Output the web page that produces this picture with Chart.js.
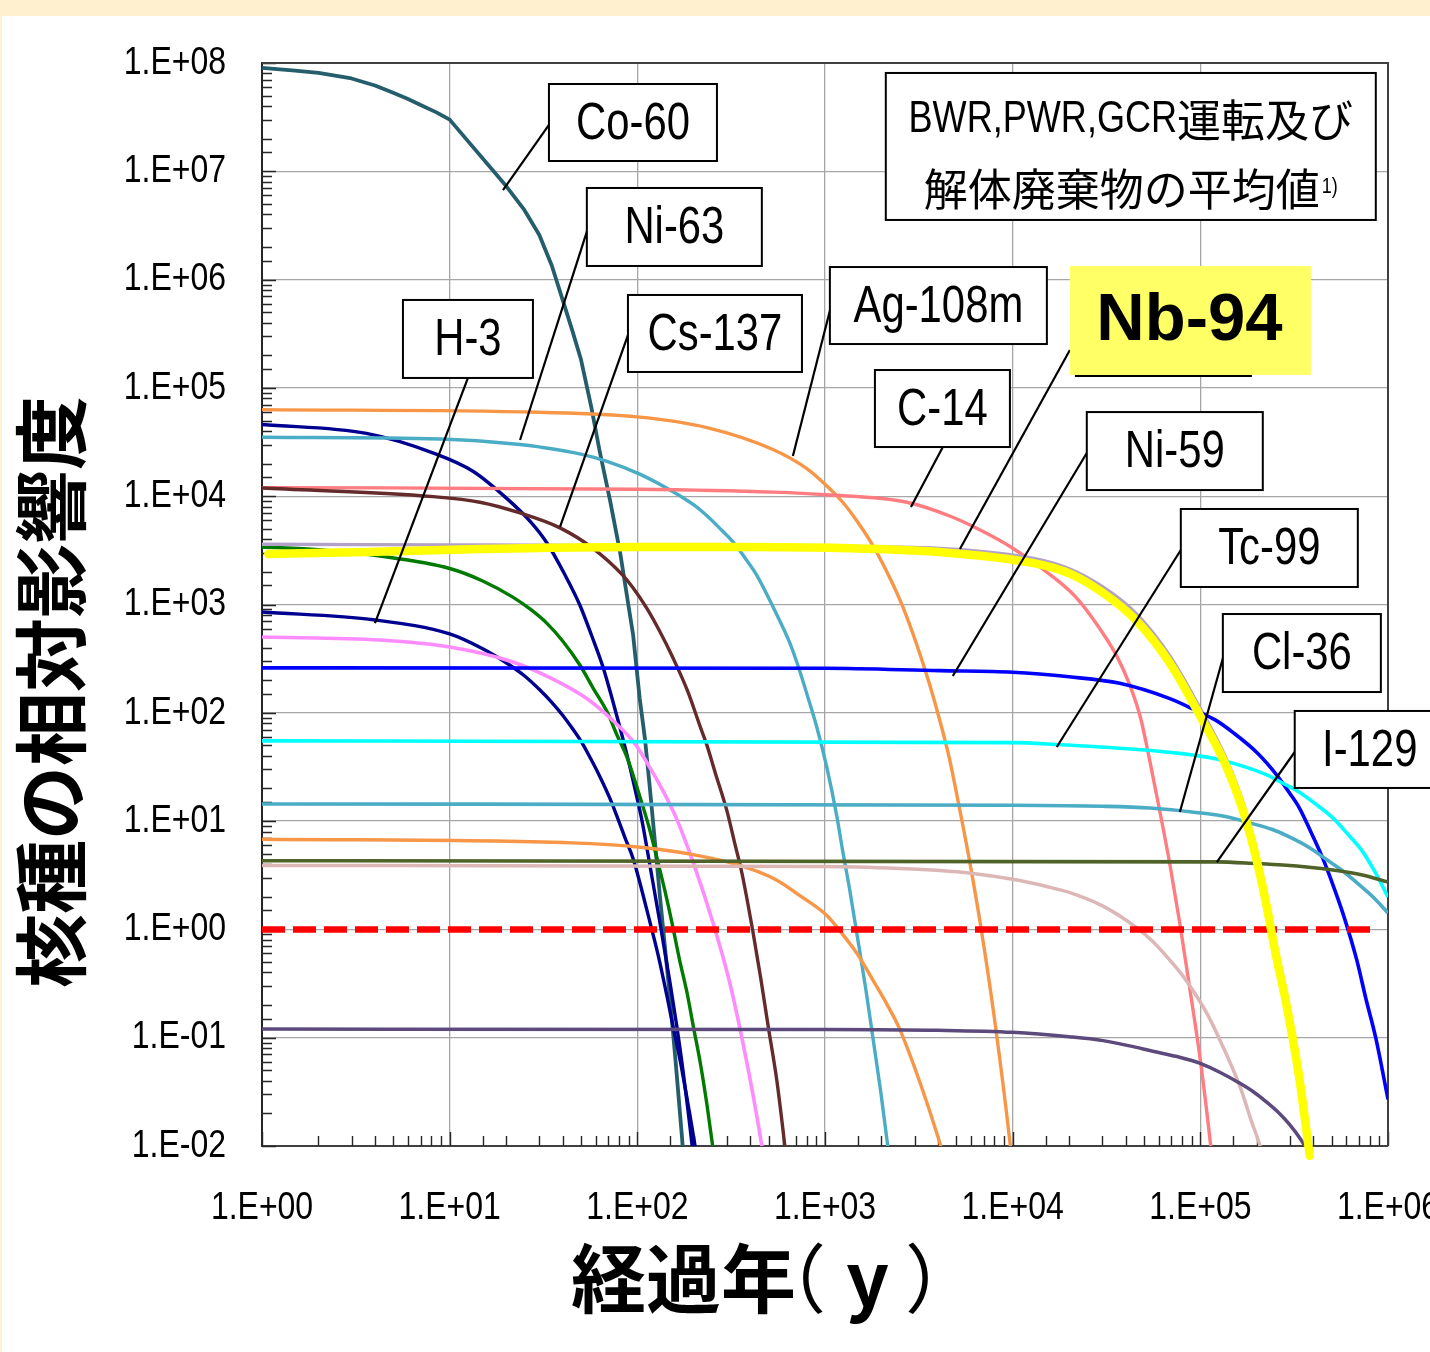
<!DOCTYPE html>
<html lang="ja">
<head>
<meta charset="utf-8">
<title>核種の相対影響度</title>
<script src="https://cdn.jsdelivr.net/npm/chart.js@4.4.1/dist/chart.umd.min.js"></script>
<style>
  html, body { margin: 0; padding: 0; background: #fff1cf; overflow: hidden; }
  #sheet { position: absolute; left: 2px; top: 16px; width: 1428px; height: 1336px; background: #ffffff; }
  #chart { position: absolute; left: 0; top: 0; }
</style>
</head>
<body>
<div id="sheet"></div>
<canvas id="chart" width="1430" height="1352"></canvas>
<script>
// Relative impact of each nuclide versus elapsed years: [years, relative impact]
const co60 = [[1, 9.0e7], [1.5, 8.5e7], [2, 8.1e7], [3, 7.2e7], [4, 6.2e7], [5, 5.3e7], [6, 4.65e7], [7, 4.1e7], [8.5, 3.5e7], [10, 3.0e7], [20, 7.3e6], [25, 4.4e6], [30, 2.6e6], [35, 1.35e6], [40, 6.5e5], [45, 3.4e5], [50, 1.85e5], [57, 6.5e4], [63, 2.6e4], [71.5, 9.2e3], [81, 3.0e3], [95, 520], [103, 135], [110, 56], [117, 19], [124, 6.5], [132, 2.0], [149, 0.24], [160, 0.06], [173, 0.012], [190, 0.0012]];
const ag108m = [[1, 6.3e4], [30, 5.95e4], [100, 5.4e4], [235, 4.3e4], [528, 2.7e4], [800, 1.8e4], [1020, 1.25e4], [1250, 8.7e3], [1480, 5.9e3], [1800, 3.5e3], [2220, 1.75e3], [2600, 950], [3090, 420], [3600, 185], [4090, 85], [4600, 38], [5170, 14], [5850, 4.6], [6770, 1.05], [8040, 0.14], [9660, 0.011], [11000, 0.0012]];
const navySeries = [[1, 4.6e4], [3.6, 3.8e4], [8.2, 2.5e4], [13.3, 1.7e4], [20.2, 9.5e3], [27, 5.8e3], [33, 3.7e3], [41, 1.9e3], [49.5, 980], [57, 520], [65.6, 265], [73, 140], [81, 72], [90, 35], [99.5, 16.5], [106, 10], [117, 3.8], [132, 1.15], [149, 0.33], [162, 0.13], [175, 0.05], [198, 0.0085], [215, 0.002]];
const ni63 = [[1, 3.5e4], [8.9, 3.37e4], [23.7, 3.0e4], [30, 2.85e4], [50, 2.45e4], [69, 2.1e4], [103, 1.6e4], [155, 1.1e4], [200, 8.3e3], [235, 6.6e3], [280, 4.9e3], [323, 3.8e3], [380, 2.6e3], [434, 1.85e3], [540, 880], [650, 440], [730, 250], [800, 150], [900, 76], [1020, 32], [1157, 11], [1245, 5.2], [1350, 2.4], [1480, 0.9], [1640, 0.3], [1800, 0.1], [1980, 0.032], [2160, 0.01], [2400, 0.002]];
const cs137 = [[1, 1.19e4], [8.2, 9.9e3], [14.5, 8.8e3], [23.7, 7.0e3], [38.7, 5.1e3], [58, 3.3e3], [84, 1.85e3], [95, 1.42e3], [112, 930], [132, 560], [155, 320], [185, 160], [216, 75], [235, 50], [260, 28], [300, 12.5], [330, 6.3], [361, 3.3], [413, 0.95], [455, 0.35], [497, 0.13], [554, 0.04], [611, 0.01], [660, 0.003]];
const c14 = [[1, 1.2e4], [100, 1.16e4], [530, 1.09e4], [1020, 1.03e4], [2730, 8.8e3], [4690, 6.5e3], [7000, 4.7e3], [9780, 3.4e3], [1.43e4, 2.15e3], [2.17e4, 1.17e3], [3.03e4, 540], [3.6e4, 330], [4.21e4, 180], [4.8e4, 90], [5.38e4, 36], [6.1e4, 12], [6.88e4, 4.0], [7.8e4, 1.1], [8.8e4, 0.28], [1.0e5, 0.062], [1.14e5, 0.0095], [1.25e5, 0.002]];
const nb94 = [[1, 3.6e3], [10, 3.55e3], [100, 3.5e3], [1000, 3.45e3], [4090, 3.3e3], [1.31e4, 2.65e3], [1.99e4, 2.15e3], [3.03e4, 1.45e3], [4.53e4, 830], [6.88e4, 335], [9.58e4, 125], [1.38e5, 37], [1.77e5, 11.5], [2.15e5, 3.0], [2.56e5, 0.65], [2.82e5, 0.3], [3.35e5, 0.056], [3.7e5, 0.012], [3.9e5, 0.006]];
const nb94Highlight = [[1.08, 2.93e3], [3.6, 3.05e3], [14.5, 3.25e3], [30, 3.33e3], [100, 3.4e3], [350, 3.4e3], [1200, 3.33e3], [4090, 3.05e3], [1.31e4, 2.4e3], [1.99e4, 1.95e3], [3.03e4, 1.28e3], [4.53e4, 719], [6.88e4, 288], [9.58e4, 106], [1.38e5, 31.6], [1.77e5, 9.6], [2.15e5, 2.47], [2.56e5, 0.52], [2.82e5, 0.24], [3.35e5, 0.045], [3.83e5, 0.0081]];
const greenSeries = [[1, 3.4e3], [2, 3.2e3], [4.25, 2.8e3], [10, 2.15e3], [15, 1.65e3], [21.7, 1.17e3], [27, 900], [33, 670], [40, 460], [49.5, 275], [58, 170], [69, 102], [78, 62], [88, 39], [103, 17], [115, 9], [127, 4.6], [140, 2.3], [153, 1.15], [168, 0.52], [184, 0.26], [200, 0.12], [216, 0.06], [235, 0.024], [253, 0.0095], [280, 0.0025]];
const h3 = [[1, 853], [4, 720], [10, 535], [15, 390], [20, 290], [25, 220], [30, 165], [35, 125], [40, 95], [45, 72], [50, 55], [55, 41], [63, 26], [72, 15.7], [78, 11], [86, 7], [95, 4.5], [105, 2.4], [117, 1.15], [130, 0.55], [144, 0.24], [156, 0.12], [169, 0.062], [180, 0.034], [191, 0.019], [203, 0.01], [220, 0.0037]];
const pinkSeries = [[1, 501], [4.25, 470], [10, 405], [21.7, 295], [35.5, 205], [54, 135], [74, 85], [97, 52], [124, 26], [137, 19], [160, 11], [198, 4.2], [253, 1.15], [311, 0.32], [365, 0.09], [413, 0.03], [461, 0.01], [500, 0.004]];
const ni59 = [[1, 260], [1000, 258], [4090, 245], [1e4, 237], [2e4, 215], [3.72e4, 187], [6.88e4, 135], [9.58e4, 104], [1.2e5, 86], [1.49e5, 66], [2e5, 43], [2.56e5, 26.5], [3e5, 18], [3.39e5, 13], [3.9e5, 7.8], [4.5e5, 4.5], [5e5, 2.8], [5.74e5, 1.42], [6.82e5, 0.52], [7.62e5, 0.23], [8.6e5, 0.1], [1e6, 0.027]];
const tc99 = [[1, 55], [1e4, 53], [1.7e4, 51], [4.5e4, 46], [8e4, 42], [1.22e5, 37.5], [1.7e5, 32], [2.26e5, 26.7], [2.8e5, 22], [3.39e5, 18.4], [4.2e5, 14], [5.08e5, 10.7], [6.1e5, 7.6], [7.34e5, 5.2], [8.6e5, 3.3], [1e6, 1.99]];
const cl36 = [[1, 14.4], [1e4, 14], [3e4, 13.7], [5.38e4, 13.2], [1e5, 11.9], [1.4e5, 10.9], [1.84e5, 9.6], [2.4e5, 8.4], [3e5, 7.1], [3.8e5, 5.7], [4.72e5, 4.4], [5.7e5, 3.5], [6.82e5, 2.7], [8.3e5, 2.0], [1e6, 1.42]];
const orangeLow = [[1, 6.8], [45, 6.3], [107, 5.7], [198, 4.9], [352, 3.9], [554, 2.85], [735, 2.05], [1020, 1.35], [1200, 0.97], [1500, 0.58], [1800, 0.34], [2150, 0.2], [2500, 0.12], [3200, 0.039], [3950, 0.013], [4130, 0.01], [4500, 0.005]];
const i129 = [[1, 4.3], [1.22e5, 4.2], [2e5, 4.05], [2.75e5, 3.93], [3.8e5, 3.75], [5.08e5, 3.53], [7.2e5, 3.2], [1e6, 2.74]];
const roseSeries = [[1, 3.9], [1000, 3.8], [2500, 3.65], [4090, 3.5], [6000, 3.3], [1e4, 2.9], [1.5e4, 2.5], [2e4, 2.2], [3.03e4, 1.64], [4.53e4, 1.05], [5.6e4, 0.77], [6.88e4, 0.52], [8e4, 0.38], [9.3e4, 0.26], [1.1e5, 0.16], [1.29e5, 0.09], [1.64e5, 0.034], [1.85e5, 0.018], [2.1e5, 0.0095], [2.4e5, 0.004]];
const purpleSeries = [[1, 0.12], [1000, 0.119], [4000, 0.117], [1e4, 0.112], [2e4, 0.102], [3.03e4, 0.094], [4.2e4, 0.084], [5.58e4, 0.075], [7.5e4, 0.067], [1e5, 0.058], [1.3e5, 0.047], [1.58e5, 0.039], [1.9e5, 0.032], [2.22e5, 0.026], [2.6e5, 0.0205], [2.97e5, 0.016], [3.43e5, 0.0115], [3.6e5, 0.01], [3.8e5, 0.0083]];
const referenceLevel = [[1, 1], [8.3e5, 1]];

const xRange = [1, 1e6];
const yRange = [0.01, 1e8];

const Y_TITLE = '核種の相対影響度';
const X_TITLE = ['経過年', '（', 'y', '）'];
const NOTE_LINE1 = ['BWR,PWR,GCR', '運転及び'];
const NOTE_LINE2 = ['解体廃棄物の平均値', '1)'];

// Callout boxes: anchor and leader ends in decades (log10 years, log10 impact)
const callouts = [
  { text: 'Co-60', at: [1.529, 7.806], size: [168, 77], lead: [[1.529, 7.428], [1.284, 6.827]] },
  { text: 'Ni-63', at: [1.731, 6.846], size: [175, 78], lead: [[1.737, 6.476], [1.375, 4.519]] },
  { text: 'H-3', at: [0.751, 5.812], size: [130, 78], lead: [[1.097, 5.091], [0.602, 2.829]] },
  { text: 'Cs-137', at: [1.950, 5.858], size: [174, 77], lead: [[1.950, 5.488], [1.588, 3.716]] },
  { text: 'Ag-108m', at: [3.026, 6.116], size: [217, 77], lead: [[3.031, 5.747], [2.829, 4.371]] },
  { text: 'Nb-94', at: [4.305, 6.126], size: [241, 109], lead: [[4.305, 5.350], [3.719, 3.512]], highlight: true },
  { text: 'C-14', at: [3.266, 5.165], size: [135, 77], lead: [[3.628, 4.454], [3.458, 3.900]] },
  { text: 'Ni-59', at: [4.395, 4.777], size: [176, 78], lead: [[4.395, 4.399], [3.681, 2.340]] },
  { text: 'Tc-99', at: [4.896, 3.882], size: [177, 78], lead: [[4.896, 3.503], [4.235, 1.684]] },
  { text: 'Cl-36', at: [5.120, 2.912], size: [158, 78], lead: [[5.125, 2.534], [4.891, 1.084]] },
  { text: 'I-129', at: [5.503, 2.017], size: [150, 77], lead: [[5.503, 1.638], [5.088, 0.622]] }
];
const noteBox = { at: [3.324, 7.908], size: [490, 147] };

const SANS = '"Liberation Sans", Arial, sans-serif';
const CJK = '"Noto Sans CJK JP", "Noto Sans CJK SC", sans-serif';
const SQUEEZE = 0.82;   // condensed face look

const isDecade = v => Math.abs(Math.log10(v) - Math.round(Math.log10(v))) < 1e-6;
const expLabel = v => {
  const e = Math.round(Math.log10(v));
  return '1.E' + (e < 0 ? '-' : '+') + String(Math.abs(e)).padStart(2, '0');
};

// text drawn with a condensed width
function narrowText(ctx, text, x, y, font, align, baseline) {
  ctx.save();
  ctx.font = font;
  ctx.textAlign = align;
  ctx.textBaseline = baseline;
  ctx.translate(x, y);
  ctx.scale(SQUEEZE, 1);
  ctx.fillText(text, 0, 0);
  ctx.restore();
}
function narrowWidth(ctx, text, font) {
  ctx.save();
  ctx.font = font;
  const w = ctx.measureText(text).width * SQUEEZE;
  ctx.restore();
  return w;
}

const line = (label, pts, color, width, extra) => Object.assign({
  label,
  data: pts.map(([x, y]) => ({ x, y })),
  borderColor: color,
  backgroundColor: color,
  borderWidth: width,
  pointRadius: 0,
  pointHoverRadius: 0,
  fill: false,
  cubicInterpolationMode: 'monotone',
  order: 2
}, extra || {});

const datasets = [
  line('Nb-94 highlight', nb94Highlight, '#ffff00', 8.5, { order: 0, borderCapStyle: 'round', borderJoinStyle: 'round', clip: { left: 0, top: 0, right: 0, bottom: 16 } }),
  line('1', referenceLevel, '#ff0000', 6.5, { order: 1, borderDash: [23, 8], cubicInterpolationMode: 'default', tension: 0 }),
  line('purple', purpleSeries, '#5c4a7c', 3.5),
  line('rose', roseSeries, '#dcb7b6', 3.5),
  line('I-129', i129, '#4f6228', 3.6),
  line('orange', orangeLow, '#f79646', 3.4),
  line('Cl-36', cl36, '#4bacc6', 3.6),
  line('Tc-99', tc99, '#00ffff', 3.6),
  line('Ni-59', ni59, '#0000ff', 3.6),
  line('Nb-94', nb94, '#b3a2c7', 3.4),
  line('Cs-137', cs137, '#652a2a', 3.4),
  line('C-14', c14, '#ff7c80', 3.4),
  line('pink', pinkSeries, '#ff8cff', 3.6),
  line('H-3', h3, '#000090', 3.4),
  line('green', greenSeries, '#007a00', 3.4),
  line('Ni-63', ni63, '#4bacc6', 3.4),
  line('navy', navySeries, '#000090', 3.4),
  line('Ag-108m', ag108m, '#f79646', 3.4),
  line('Co-60', co60, '#245e6c', 3.8, { cubicInterpolationMode: 'default', tension: 0, borderJoinStyle: 'round' })
];

const pix = (chart, lx, ly) => [chart.scales.x.getPixelForValue(Math.pow(10, lx)), chart.scales.y.getPixelForValue(Math.pow(10, ly))];

// Frame on top/right plus inward tick marks on both axes
const frameTicks = {
  id: 'frameTicks',
  beforeDatasetsDraw(chart) {
    const { ctx, chartArea: a, scales: { x, y } } = chart;
    ctx.save();
    ctx.strokeStyle = '#262626';
    ctx.lineWidth = 1.4;
    ctx.beginPath();
    y.ticks.forEach(t => {
      const p = Math.round(y.getPixelForValue(t.value)) + 0.5;
      const len = isDecade(t.value) ? 14 : 10;
      ctx.moveTo(a.left, p); ctx.lineTo(a.left + len, p);
    });
    x.ticks.forEach(t => {
      const p = Math.round(x.getPixelForValue(t.value)) + 0.5;
      const len = isDecade(t.value) ? 14 : 10;
      ctx.moveTo(p, a.bottom); ctx.lineTo(p, a.bottom - len);
    });
    ctx.stroke();
    ctx.strokeStyle = '#404040';
    ctx.lineWidth = 2;
    ctx.beginPath();
    ctx.moveTo(a.left, a.top); ctx.lineTo(a.right, a.top); ctx.lineTo(a.right, a.bottom);
    ctx.stroke();
    ctx.restore();
  }
};

// Decade labels of both axes, in a condensed face
const tickLabels = {
  id: 'tickLabels',
  afterDraw(chart) {
    const { ctx, chartArea: a, scales: { x, y } } = chart;
    const font = '39px ' + SANS;
    ctx.save();
    ctx.fillStyle = '#000';
    y.ticks.forEach(t => {
      if (!isDecade(t.value)) return;
      narrowText(ctx, expLabel(t.value), a.left - 36, y.getPixelForValue(t.value), font, 'right', 'middle');
    });
    x.ticks.forEach(t => {
      if (!isDecade(t.value)) return;
      narrowText(ctx, expLabel(t.value), x.getPixelForValue(t.value), a.bottom + 62, font, 'center', 'middle');
    });
    ctx.restore();
  }
};

// Leader lines, labelled boxes and the source note
const calloutLayer = {
  id: 'calloutLayer',
  afterDatasetsDraw(chart) {
    const ctx = chart.ctx;
    ctx.save();
    ctx.strokeStyle = '#000';
    ctx.lineWidth = 2.2;
    callouts.forEach(c => {
      const a = pix(chart, c.lead[0][0], c.lead[0][1]);
      const b = pix(chart, c.lead[1][0], c.lead[1][1]);
      ctx.beginPath(); ctx.moveTo(a[0], a[1]); ctx.lineTo(b[0], b[1]); ctx.stroke();
    });
    callouts.forEach(c => {
      const [x0, y0] = pix(chart, c.at[0], c.at[1]);
      const [w, h] = c.size;
      if (c.highlight) {
        ctx.lineWidth = 2;
        ctx.beginPath(); ctx.moveTo(x0 + 5, y0 + h + 1); ctx.lineTo(x0 + 182, y0 + h + 1); ctx.stroke();
        ctx.fillStyle = '#ffff66';
        ctx.fillRect(x0, y0, w, h);
        ctx.fillStyle = '#000';
        ctx.font = 'bold 67px ' + SANS;
        ctx.textAlign = 'center';
        ctx.textBaseline = 'middle';
        ctx.fillText(c.text, x0 + w / 2 - 1, y0 + h / 2 + 1);
      } else {
        ctx.fillStyle = '#fff';
        ctx.fillRect(x0, y0, w, h);
        ctx.lineWidth = 2;
        ctx.strokeRect(x0, y0, w, h);
        ctx.fillStyle = '#000';
        narrowText(ctx, c.text, x0 + w / 2, y0 + h / 2 + 2, '51px ' + SANS, 'center', 'middle');
      }
    });
    // source note
    const [nx, ny] = pix(chart, noteBox.at[0], noteBox.at[1]);
    const [nw, nh] = noteBox.size;
    ctx.fillStyle = '#fff';
    ctx.fillRect(nx, ny, nw, nh);
    ctx.lineWidth = 2;
    ctx.strokeRect(nx, ny, nw, nh);
    ctx.fillStyle = '#000';
    const latinFont = '44px ' + SANS;
    const cjkFont = '44px ' + CJK;
    const supFont = '22px ' + SANS;
    ctx.font = cjkFont;
    const wA = narrowWidth(ctx, NOTE_LINE1[0], latinFont);
    const wB = ctx.measureText(NOTE_LINE1[1]).width;
    let sx = nx + nw / 2 - (wA + wB) / 2;
    narrowText(ctx, NOTE_LINE1[0], sx, ny + 47, latinFont, 'left', 'middle');
    ctx.textAlign = 'left';
    ctx.textBaseline = 'middle';
    ctx.font = cjkFont;
    ctx.fillText(NOTE_LINE1[1], sx + wA, ny + 47);
    const wC = ctx.measureText(NOTE_LINE2[0]).width;
    const wD = narrowWidth(ctx, NOTE_LINE2[1], supFont);
    sx = nx + nw / 2 - (wC + 2 + wD) / 2;
    ctx.font = cjkFont;
    ctx.fillText(NOTE_LINE2[0], sx, ny + 116);
    narrowText(ctx, NOTE_LINE2[1], sx + wC + 2, ny + 114, supFont, 'left', 'middle');
    ctx.restore();
  }
};

// Axis titles
const axisTitles = {
  id: 'axisTitles',
  afterDraw(chart) {
    const ctx = chart.ctx;
    ctx.save();
    ctx.fillStyle = '#000';
    ctx.translate(51, 692);
    ctx.rotate(-Math.PI / 2);
    ctx.font = 'bold 74px ' + CJK;
    ctx.textAlign = 'center';
    ctx.textBaseline = 'middle';
    ctx.fillText(Y_TITLE, 0, 0);
    ctx.restore();

    ctx.save();
    ctx.fillStyle = '#000';
    ctx.textAlign = 'left';
    ctx.textBaseline = 'alphabetic';
    const pieces = [
      { t: X_TITLE[0], font: 'bold 75px ' + CJK, left: 572 },
      { t: X_TITLE[1], font: '75px ' + CJK, left: 803 },
      { t: X_TITLE[2], font: 'bold 75px ' + CJK, left: 847 },
      { t: X_TITLE[3], font: '75px ' + CJK, left: 908 }
    ];
    pieces.forEach(p => {
      ctx.font = p.font;
      const m = ctx.measureText(p.t);
      ctx.fillText(p.t, p.left + m.actualBoundingBoxLeft, 1307);
    });
    ctx.restore();
  }
};

const gridColor = c => (c.tick && isDecade(c.tick.value)) ? '#a6a6a6' : 'rgba(0,0,0,0)';

new Chart(document.getElementById('chart'), {
  type: 'line',
  data: { datasets },
  options: {
    responsive: false,
    animation: false,
    devicePixelRatio: 1,
    events: [],
    layout: { padding: { left: 0, top: 63, right: 42, bottom: 0 } },
    plugins: { legend: { display: false }, tooltip: { enabled: false }, title: { display: false } },
    scales: {
      x: {
        type: 'logarithmic',
        min: xRange[0], max: xRange[1],
        offset: false,
        border: { display: true, color: '#404040', width: 2 },
        grid: { drawTicks: false, lineWidth: 1.3, color: gridColor },
        ticks: { display: false, autoSkip: false, maxRotation: 0, minRotation: 0 },
        afterFit: s => { s.height = 206; s.paddingLeft = 0; s.paddingRight = 0; }
      },
      y: {
        type: 'logarithmic',
        min: yRange[0], max: yRange[1],
        border: { display: true, color: '#262626', width: 2 },
        grid: { drawTicks: false, lineWidth: 1.3, color: gridColor },
        ticks: { display: false, autoSkip: false },
        afterFit: s => { s.width = 262; s.paddingTop = 0; s.paddingBottom = 0; }
      }
    }
  },
  plugins: [frameTicks, calloutLayer, tickLabels, axisTitles]
});
</script>
</body>
</html>
